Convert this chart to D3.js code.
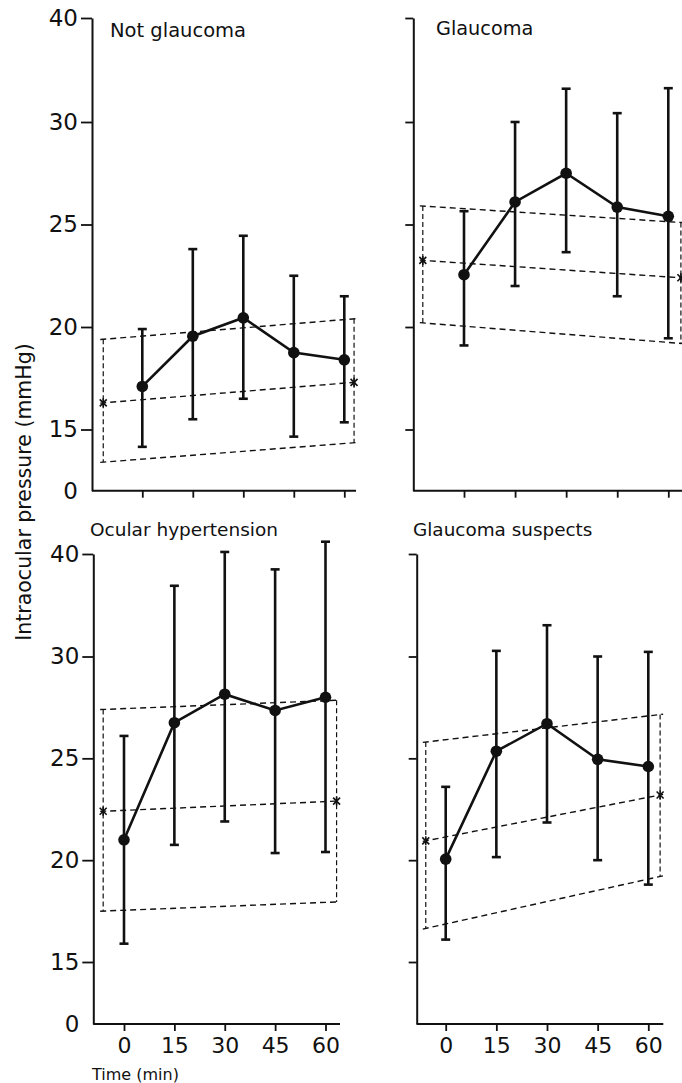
<!DOCTYPE html>
<html>
<head>
<meta charset="utf-8">
<script src="https://cdn.jsdelivr.net/npm/d3@7"></script>
<style>
body { margin: 0; background: #fff; }
svg text { font-family: "DejaVu Sans", sans-serif; fill: #111; }
</style>
</head>
<body>
<svg width="682" height="1083"></svg>
<script>
// time points (min) and panel names
var times = [0, 15, 30, 45, 60];
var titles = ["Not glaucoma", "Glaucoma", "Ocular hypertension", "Glaucoma suspects"];

// mean pressure and +/- SD ends, one row per panel (mmHg)
var means = [
  [17.1, 19.55, 20.45, 18.75, 18.4],
  [22.55, 26.1, 27.5, 25.85, 25.4],
  [21.0, 26.75, 28.15, 27.35, 28.0],
  [20.05, 25.35, 26.7, 24.95, 24.6]
];
var sdHigh = [
  [19.9, 23.8, 24.45, 22.5, 21.5],
  [25.65, 30.0, 33.2, 30.85, 33.25],
  [26.1, 36.9, 40.2, 38.5, 41.2],
  [23.6, 30.55, 33.05, 30.0, 30.45]
];
var sdLow = [
  [14.15, 15.5, 16.5, 14.65, 15.35],
  [19.1, 22.0, 23.65, 21.5, 19.45],
  [15.9, 20.75, 21.9, 20.35, 20.4],
  [16.1, 20.15, 21.85, 20.0, 18.8]
];

// dashed band: start/end time and values of upper, middle (x) and lower lines
var bandTimes = [[-11.6, 62.9], [-12.1, 63.7], [-6.2, 63.3], [-5.9, 63.5]];
var bandUpper = [[19.4, 20.4], [25.9, 25.1], [27.4, 27.85], [25.8, 27.15]];
var bandMid = [[16.3, 17.3], [23.25, 22.4], [22.4, 22.9], [20.95, 23.2]];
var bandLower = [[13.4, 14.35], [20.2, 19.2], [17.5, 17.95], [16.65, 19.2]];

var yTicks = [15, 20, 25, 30, 40];

// layout
var rows = [
  {base: 490.7, y15: 429.5, y30: 122, y40: 18},
  {base: 1024, y15: 962, y30: 656.5, y40: 554}
];
var panels = [
  {row: 0, left: true,  ax: 92,    xEnd: 356,   x0: 142.3, x60: 344.3, tx: 110, ty: 37,  fs: 19.5},
  {row: 0, left: false, ax: 413.3, xEnd: 682,   x0: 464,   x60: 668.3, tx: 436, ty: 35,  fs: 19.3},
  {row: 1, left: true,  ax: 93.3,  xEnd: 340,   x0: 124,   x60: 325.5, tx: 90,  ty: 536, fs: 18.5},
  {row: 1, left: false, ax: 416.7, xEnd: 663.3, x0: 445.7, x60: 648.3, tx: 413, ty: 536, fs: 18.4}
];

var svg = d3.select("svg");
var ink = "#111";

panels.forEach(function(p, k) {
  var r = rows[p.row];
  // broken axis: 0 sits at the baseline, 12-30 linear, 30-40 at half scale
  var y = d3.scaleLinear()
      .domain([0, 12, 15, 30, 40])
      .range([r.base, r.base, r.y15, r.y30, r.y40]);
  var x = d3.scaleLinear().domain([0, 60]).range([p.x0, p.x60]);

  var g = svg.append("g");

  // y axis
  var yAxis = d3.axisLeft(y)
      .tickValues(yTicks)
      .tickSize(p.left ? 11 : 8)
      .tickSizeOuter(0)
      .tickPadding(3)
      .tickFormat(p.left ? d3.format("d") : "");
  var ya = g.append("g")
      .attr("transform", "translate(" + p.ax + ",0)")
      .call(yAxis);
  ya.select(".domain").attr("stroke", ink).attr("stroke-width", 2);
  ya.selectAll(".tick line").attr("stroke", ink).attr("stroke-width", 1.8);
  ya.selectAll(".tick text")
      .attr("font-size", 23)
      .attr("font-family", "DejaVu Sans")
      .attr("fill", ink);
  if (p.left) {
    g.append("text")
        .attr("x", p.ax - 14)
        .attr("y", y(0))
        .attr("dy", "0.36em")
        .attr("text-anchor", "end")
        .attr("font-size", 23)
        .text("0");
  }

  // x axis
  g.append("line")
      .attr("x1", p.ax).attr("x2", p.xEnd)
      .attr("y1", r.base).attr("y2", r.base)
      .attr("stroke", ink).attr("stroke-width", 2);
  var xAxis = d3.axisBottom(x)
      .tickValues(times)
      .tickSize(7)
      .tickPadding(6)
      .tickFormat(p.row === 1 ? d3.format("d") : "");
  var xa = g.append("g")
      .attr("transform", "translate(0," + r.base + ")")
      .call(xAxis);
  xa.select(".domain").remove();
  xa.selectAll(".tick line").attr("stroke", ink).attr("stroke-width", 1.8);
  xa.selectAll(".tick text")
      .attr("font-size", 22)
      .attr("font-family", "DejaVu Sans")
      .attr("fill", ink);

  // title
  g.append("text")
      .attr("x", p.tx)
      .attr("y", p.ty)
      .attr("font-size", p.fs)
      .text(titles[k]);

  // dashed band
  var bt = bandTimes[k];
  var xl = x(bt[0]), xr = x(bt[1]);
  [bandUpper[k], bandMid[k], bandLower[k]].forEach(function(b) {
    var slope = (y(b[1]) - y(b[0])) / (xr - xl);
    g.append("line")
        .attr("x1", xl - 3).attr("x2", xr + 3)
        .attr("y1", y(b[0]) - slope * 3)
        .attr("y2", y(b[1]) + slope * 3)
        .attr("stroke", ink)
        .attr("stroke-width", 1.4)
        .attr("stroke-dasharray", "6,4");
  });
  [0, 1].forEach(function(i) {
    g.append("line")
        .attr("x1", x(bt[i])).attr("x2", x(bt[i]))
        .attr("y1", y(bandUpper[k][i])).attr("y2", y(bandLower[k][i]))
        .attr("stroke", ink)
        .attr("stroke-width", 1.2)
        .attr("stroke-dasharray", "5,3");
    var cx = x(bt[i]), cy = y(bandMid[k][i]), s = 3.5;
    g.append("path")
        .attr("d", "M" + (cx - s) + "," + (cy - s) + "L" + (cx + s) + "," + (cy + s) +
                   "M" + (cx - s) + "," + (cy + s) + "L" + (cx + s) + "," + (cy - s) +
                   "M" + cx + "," + (cy - s - 1) + "L" + cx + "," + (cy + s + 1))
        .attr("stroke", ink)
        .attr("stroke-width", 1.6)
        .attr("fill", "none");
  });

  // error bars
  var bars = g.selectAll(".bar")
      .data(times)
      .enter().append("g")
      .attr("class", "bar");
  bars.append("line")
      .attr("x1", function(d) { return x(d); })
      .attr("x2", function(d) { return x(d); })
      .attr("y1", function(d, i) { return y(sdHigh[k][i]); })
      .attr("y2", function(d, i) { return y(sdLow[k][i]); })
      .attr("stroke", ink).attr("stroke-width", 2.6);
  [sdHigh[k], sdLow[k]].forEach(function(arr) {
    bars.append("line")
        .attr("x1", function(d) { return x(d) - 4.5; })
        .attr("x2", function(d) { return x(d) + 4.5; })
        .attr("y1", function(d, i) { return y(arr[i]); })
        .attr("y2", function(d, i) { return y(arr[i]); })
        .attr("stroke", ink).attr("stroke-width", 2.6);
  });

  // mean line and points
  var line = d3.line()
      .x(function(d) { return x(d); })
      .y(function(d, i) { return y(means[k][i]); });
  g.append("path")
      .datum(times)
      .attr("d", line)
      .attr("fill", "none")
      .attr("stroke", ink)
      .attr("stroke-width", 2.6);
  g.selectAll(".pt")
      .data(times)
      .enter().append("circle")
      .attr("class", "pt")
      .attr("cx", function(d) { return x(d); })
      .attr("cy", function(d, i) { return y(means[k][i]); })
      .attr("r", 5.8)
      .attr("fill", ink);
});

// shared labels
svg.append("text")
    .attr("transform", "translate(31,492) rotate(-90)")
    .attr("text-anchor", "middle")
    .attr("font-size", 20.5)
    .text("Intraocular pressure (mmHg)");
svg.append("text")
    .attr("x", 92)
    .attr("y", 1080)
    .attr("font-size", 16)
    .text("Time (min)");
</script>
</body>
</html>
